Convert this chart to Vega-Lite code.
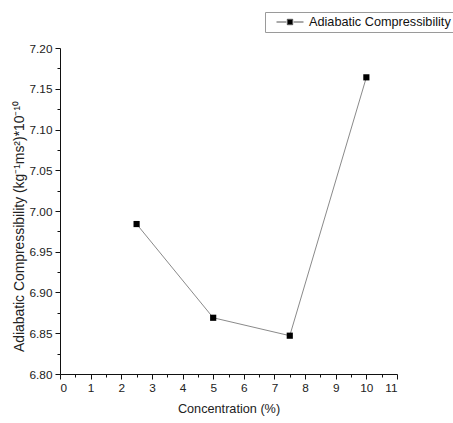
{
  "$schema": "https://vega.github.io/schema/vega-lite/v6.json",
  "autosize": "none",
  "width": 337,
  "height": 326,
  "padding": {"left": 60, "top": 48, "right": 56, "bottom": 49},
  "background": "white",
  "config": {
    "view": {"stroke": null},
    "font": "Liberation Sans",
    "axis": {
      "grid": false,
      "domainColor": "#111",
      "domainWidth": 1,
      "tickColor": "#111",
      "tickWidth": 1,
      "labelFont": "Liberation Sans",
      "labelFontSize": 11.8,
      "labelColor": "#222",
      "titleFont": "Liberation Sans",
      "titleFontWeight": "normal",
      "titleColor": "#222"
    }
  },
  "data": {
    "values": [
      {"concentration": 2.5, "compressibility": 6.984, "series": "Adiabatic Compressibility"},
      {"concentration": 5.0, "compressibility": 6.869, "series": "Adiabatic Compressibility"},
      {"concentration": 7.5, "compressibility": 6.847, "series": "Adiabatic Compressibility"},
      {"concentration": 10.0, "compressibility": 7.164, "series": "Adiabatic Compressibility"}
    ]
  },
  "encoding": {
    "x": {
      "field": "concentration",
      "type": "quantitative",
      "scale": {"domain": [0, 11], "nice": false, "zero": false},
      "axis": {
        "title": "Concentration (%)",
        "titleFontSize": 12.7,
        "titlePadding": 9,
        "values": [0, 0.5, 1, 1.5, 2, 2.5, 3, 3.5, 4, 4.5, 5, 5.5, 6, 6.5, 7, 7.5, 8, 8.5, 9, 9.5, 10, 10.5, 11],
        "labelExpr": "datum.value % 1 === 0 ? format(datum.value, 'd') : ''",
        "tickSize": {"expr": "datum.value % 1 === 0 ? 5 : 3"},
        "labelPadding": 3
      }
    },
    "y": {
      "field": "compressibility",
      "type": "quantitative",
      "scale": {"domain": [6.8, 7.2], "nice": false, "zero": false},
      "axis": {
        "title": "Adiabatic Compressibility (kg⁻¹ms²)*10⁻¹⁰",
        "titleFontSize": 13.9,
        "titleX": -34,
        "titleY": 178,
        "values": [6.8, 6.825, 6.85, 6.875, 6.9, 6.925, 6.95, 6.975, 7.0, 7.025, 7.05, 7.075, 7.1, 7.125, 7.15, 7.175, 7.2],
        "labelExpr": "abs(datum.value * 20 - round(datum.value * 20)) < 0.001 ? format(datum.value, '.2f') : ''",
        "tickSize": {"expr": "abs(datum.value * 20 - round(datum.value * 20)) < 0.001 ? 5 : 3"},
        "labelPadding": 3
      }
    }
  },
  "layer": [
    {
      "mark": {"type": "line", "color": "#8a8a8a", "strokeWidth": 1}
    },
    {
      "mark": {"type": "point", "shape": "square", "filled": true, "size": 38, "opacity": 1},
      "encoding": {
        "color": {
          "field": "series",
          "type": "nominal",
          "scale": {"range": ["#000000"]},
          "legend": {
            "title": null,
            "orient": "none",
            "legendX": 205,
            "legendY": -36,
            "padding": 2,
            "clipHeight": 16,
            "strokeColor": "#9a9a9a",
            "fillColor": "white",
            "symbolType": "M-1,0H-0.27M0.27,0H1M-0.2,-0.2H0.2V0.2H-0.2Z",
            "symbolSize": 729,
            "symbolOffset": 9,
            "symbolStrokeColor": "#555",
            "symbolStrokeWidth": 1,
            "symbolFillColor": "#000",
            "labelFont": "Liberation Sans",
            "labelFontSize": 12.7,
            "labelColor": "#111",
            "labelOffset": 5
          }
        }
      }
    }
  ]
}
